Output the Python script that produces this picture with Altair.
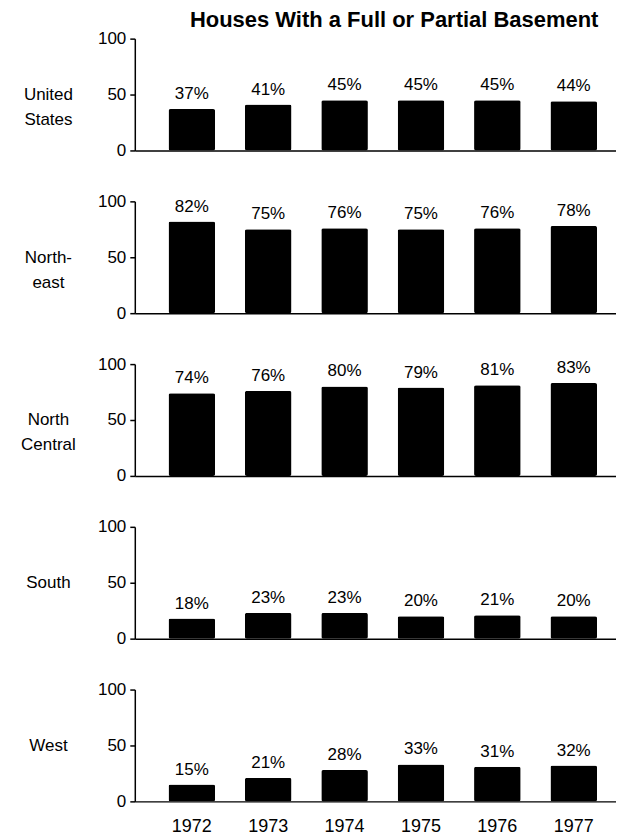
import altair as alt
import pandas as pd

years = ["1972", "1973", "1974", "1975", "1976", "1977"]
regions = ["United States", "Northeast", "North Central", "South", "West"]
region_titles = [["United", "States"], ["North-", "east"], ["North", "Central"], ["South"], ["West"]]
us = [37, 41, 45, 45, 45, 44]
northeast = [82, 75, 76, 75, 76, 78]
north_central = [74, 76, 80, 79, 81, 83]
south = [18, 23, 23, 20, 21, 20]
west = [15, 21, 28, 33, 31, 32]
series = [us, northeast, north_central, south, west]

FONT = "Liberation Sans"

panels = []
for i, (reg, vals) in enumerate(zip(regions, series)):
    df = pd.DataFrame({"year": years, "pct": vals})
    df["label"] = [f"{v}%" for v in vals]
    last = i == len(regions) - 1
    xaxis = alt.Axis(
        title=None,
        labels=last,
        ticks=False,
        domain=True,
        domainColor="black",
        domainWidth=1.5,
        labelFont=FONT,
        labelFontSize=18,
        labelColor="black",
        labelPadding=16,
        labelAngle=0,
    )
    x = alt.X(
        "year:N",
        sort=years,
        axis=xaxis,
        scale=alt.Scale(paddingInner=0.39, paddingOuter=0.345, align=0.64),
    )
    yaxis = alt.Axis(
        values=[0, 50, 100],
        title=region_titles[i],
        titleAngle=0,
        titleAlign="center",
        titleBaseline="middle",
        titleX=-87,
        titleY=56,
        titleLineHeight=25,
        titleFont=FONT,
        titleFontSize=17,
        titleFontWeight="normal",
        titleColor="black",
        labelFont=FONT,
        labelFontSize=17,
        labelColor="black",
        labelPadding=4,
        tickSize=5,
        tickColor="black",
        tickWidth=1.5,
        domainColor="black",
        domainWidth=1.5,
        grid=False,
    )
    y = alt.Y("pct:Q", scale=alt.Scale(domain=[0, 100], nice=False), axis=yaxis)
    base = alt.Chart(df)
    bars = base.mark_bar(color="black", cornerRadius=2).encode(x=x, y=y)
    text = base.mark_text(
        baseline="bottom", dy=-6, font=FONT, fontSize=17, color="black"
    ).encode(x=alt.X("year:N", sort=years), y="pct:Q", text="label:N")
    panels.append((bars + text).properties(width=482, height=112))

chart = (
    alt.vconcat(*panels, spacing=51, bounds="flush")
    .properties(
        title=alt.TitleParams(
            "Houses With a Full or Partial Basement",
            font=FONT,
            fontSize=22,
            fontWeight="bold",
            color="black",
            anchor="middle",
            dx=76,
            offset=-2,
        ),
        padding={"left": 12, "top": 0, "right": 0, "bottom": 0},
        background="white",
    )
    .configure_view(stroke=None, strokeWidth=0)
)

chart.save("out.html", embed_options={"renderer": "svg", "actions": False})
